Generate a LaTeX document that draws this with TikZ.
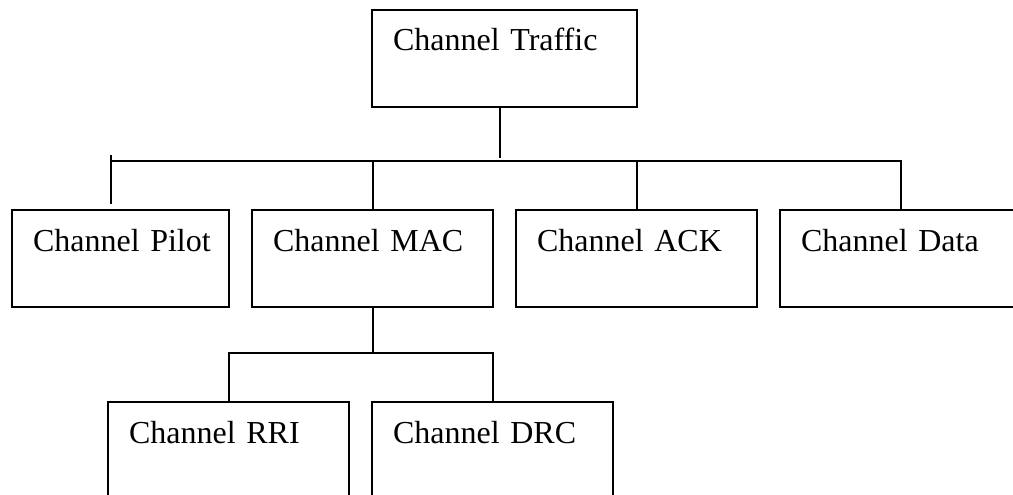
\documentclass[tikz,border=0pt]{standalone}
\usepackage{fontspec}
\setmainfont{Liberation Serif}
\usetikzlibrary{positioning}
\tikzset{chan/.style={draw,anchor=north west,inner xsep=21pt,inner ysep=0pt,
		text height=41pt,text depth=56pt,align=left,text width=#1,
		font=\fontsize{32}{38}\selectfont}}

\begin{document}
\begin{tikzpicture}[x=1pt,y=-1pt,line width=2pt]
		\useasboundingbox (0,0) rectangle (1013,495);
		\clip (0,0) rectangle (1013,495);
		\node[chan=175pt] (pilot) at (11,209) {\mbox{Channel Pilot}};
		\node[chan=223pt] (traffic) at (371,9) {Channel Traffic};
		\node[chan=199pt] (mac) at (251,209) {Channel MAC};
		\node[chan=199pt] (ack) at (515,209) {Channel ACK};
		\node[chan=199pt] (data) at (779,209) {Channel Data};
		\node[chan=199pt] (rri) at (107,401) {Channel RRI};
		\node[chan=199pt] (drc) at (371,401) {Channel DRC};
		\coordinate (busL) at (111,161);
		\coordinate (busR) at (902,161);
		\coordinate (sub) at (0,353);
		\draw ([xshift=-4.5pt]traffic.south) -- ++(0,50);
		\draw (busL) -- (busR);
		\draw (busL) -- ++(0,-6) (busL) -- ++(0,43);
		\foreach \n in {mac,ack,data}{\draw (\n.north) -- (\n.north |- busL);}
		\draw (mac.south) -- (mac.south |- sub);
		\draw (rri.north) -- (rri.north |- sub) -- (drc.north |- sub) -- (drc.north);
\end{tikzpicture}
\end{document}
